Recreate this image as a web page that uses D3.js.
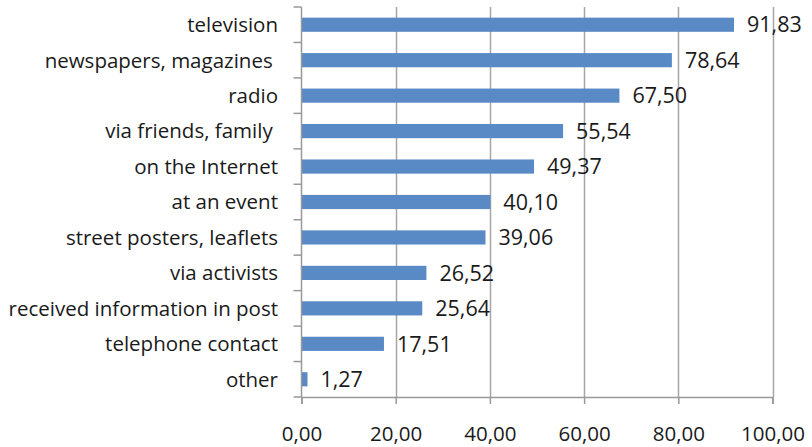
<!DOCTYPE html>
<html><head><meta charset="utf-8">
<script src="https://cdn.jsdelivr.net/npm/d3@7"></script>
<style>body{margin:0;background:#fff;} text{font-family:"Open Sans",sans-serif;}</style>
</head><body><svg id="c" width="812" height="447"></svg>
<script>
const categories = ["television","newspapers, magazines ","radio","via friends, family ","on the Internet","at an event","street posters, leaflets","via activists","received information in post","telephone contact","other"];
const values = [91.83,78.64,67.50,55.54,49.37,40.10,39.06,26.52,25.64,17.51,1.27];
const xTicks = [0,20,40,60,80,100];

const svg = d3.select("#c");
const pLeft = 301.5, pRight = 772.5, pTop = 7, pBottom = 397;
const fmt = v => v.toFixed(2).replace(".", ",");
const x = d3.scaleLinear().domain([0,100]).range([pLeft,pRight]);
const y = d3.scaleBand().domain(categories).range([pTop,pBottom]).paddingInner(0.6).paddingOuter(0.3);

// gridlines
svg.append("g").selectAll("line").data(xTicks.slice(1)).join("line")
  .attr("x1",d=>Math.round(x(d))+0.5).attr("x2",d=>Math.round(x(d))+0.5)
  .attr("y1",pTop).attr("y2",pBottom).attr("stroke","#a6a6a6").attr("stroke-width",1.5);

// bars
svg.append("g").selectAll("rect").data(values).join("rect")
  .attr("x",x(0)).attr("y",(d,i)=>y(categories[i]))
  .attr("width",d=>x(d)-x(0)).attr("height",y.bandwidth())
  .attr("fill","#5a8ac6");

// value labels
svg.append("g").selectAll("text").data(values).join("text")
  .attr("x",d=>x(d)+13).attr("y",(d,i)=>y(categories[i])+y.bandwidth()/2)
  .attr("dy","0.36em").attr("font-size",21.5).attr("fill","#1a1a1a").text(fmt);

// y axis
const yAxisScale = d3.scalePoint().domain(d3.range(12)).range([pTop,pBottom]);
const ga = svg.append("g");
ga.append("line").attr("x1",pLeft).attr("x2",pLeft).attr("y1",pTop).attr("y2",pBottom).attr("stroke","#999").attr("stroke-width",1.5);
ga.selectAll("line.t").data(d3.range(12)).join("line").attr("class","t")
  .attr("x1",pLeft-8).attr("x2",pLeft).attr("y1",d=>yAxisScale(d)).attr("y2",d=>yAxisScale(d))
  .attr("stroke","#999").attr("stroke-width",1.5);
ga.selectAll("text").data(categories).join("text")
  .attr("x",278).attr("y",d=>y(d)+y.bandwidth()/2).attr("dy","0.36em")
  .style("white-space","pre")
  .attr("text-anchor","end").attr("font-size",20.5).attr("fill","#1a1a1a").text(d=>d);

// x axis
const xAxis = d3.axisBottom(x).tickValues(xTicks).tickFormat(fmt).tickSize(7).tickPadding(22.5);
const gx = svg.append("g").attr("transform",`translate(0,${pBottom})`).call(xAxis);
gx.select(".domain").attr("stroke","#999").attr("stroke-width",1.5);
gx.selectAll(".tick line").attr("stroke","#999").attr("stroke-width",1.5);
gx.selectAll(".tick text").attr("font-size",20.5).attr("fill","#1a1a1a").attr("font-family","Open Sans");
</script></body></html>
